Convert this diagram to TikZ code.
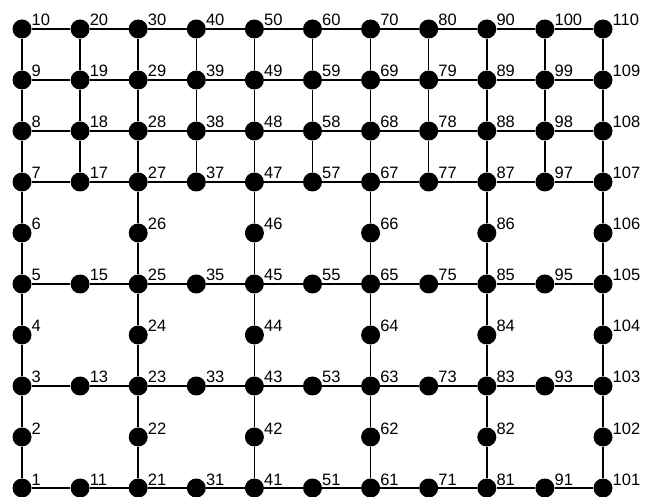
\documentclass[tikz,border=0pt]{standalone}
\usepackage{fontspec}
\setmainfont{Liberation Sans}
\begin{document}
\begin{tikzpicture}[x=1pt,y=1pt,
  dot/.style={circle,fill=black,draw=none,minimum size=19pt,inner sep=0pt},
  lbl/.style={anchor=base west,inner sep=0pt,font=\fontsize{16.5}{16.5}\selectfont},
  edge/.style={line width=1.5pt,black}]
\useasboundingbox (0,0) rectangle (654,496);
% nodes
\foreach \i in {0,...,10}{
  \foreach \j in {1,...,10}{
    \pgfmathtruncatemacro{\odd}{mod(\i,2)}
    \pgfmathtruncatemacro{\show}{(\odd==0) || (\j==1) || (\j==3) || (\j==5) || (\j>=7)}
    \ifnum\show=1
      \pgfmathtruncatemacro{\k}{10*\i+\j}
      \pgfmathsetmacro{\px}{22+58.1*\i}
      \pgfmathsetmacro{\py}{496-(29+51*(10-\j))}
      \node[dot] (n\k) at (\px,\py) {};
      \node[lbl] (t\k) at (\px+9.5,\py+3) {\k};
    \fi
  }
}
% horizontal edges
\foreach \r in {1,3,5,7,8,9,10}{
  \foreach \i in {0,...,9}{
    \pgfmathtruncatemacro{\a}{10*\i+\r}
    \pgfmathtruncatemacro{\b}{10*(\i+1)+\r}
    \draw[edge] (n\a) -- (n\b);
  }
}
% vertical edges, even columns
\foreach \i in {0,2,4,6,8,10}{
  \foreach \j in {1,...,9}{
    \pgfmathtruncatemacro{\a}{10*\i+\j}
    \pgfmathtruncatemacro{\b}{10*\i+\j+1}
    \draw[edge] (n\a) -- (n\b);
  }
}
% vertical edges, odd columns
\foreach \i in {1,3,5,7,9}{
  \foreach \j in {7,8,9}{
    \pgfmathtruncatemacro{\a}{10*\i+\j}
    \pgfmathtruncatemacro{\b}{10*\i+\j+1}
    \draw[edge] (n\a) -- (n\b);
  }
}
\end{tikzpicture}
\end{document}
